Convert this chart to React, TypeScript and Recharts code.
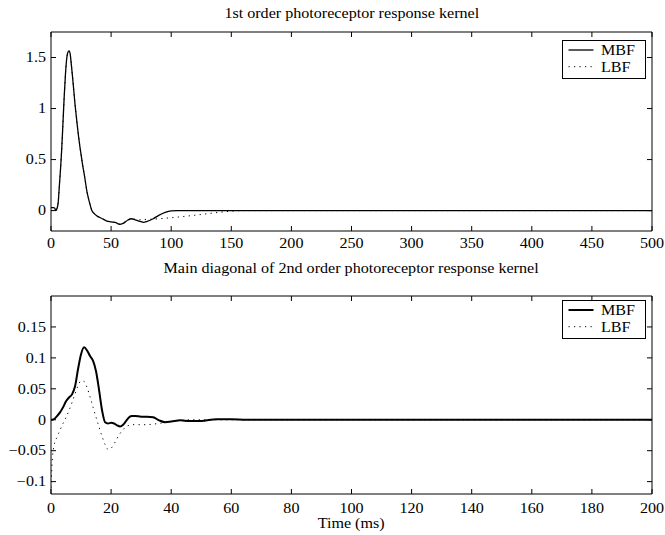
import { Legend, Line, LineChart, XAxis, YAxis } from "recharts";

// time axis (ms) and kernel values
const topTime = [
  0, 1, 2, 3, 4, 5, 6, 7, 8, 9, 10, 11, 12, 13, 14, 15, 16, 17, 18, 19, 20, 21, 22, 23, 24, 25, 26,
  28, 30, 32, 34, 36, 38, 42, 46, 50, 54, 57, 60, 64, 67, 70, 74, 77, 80, 85, 90, 95, 100, 105, 110,
  120, 130, 140, 150, 160, 200, 300, 400, 500,
];
const topMBF = [
  0.03, 0.03, 0.03, 0.025, 0.0, 0.02, 0.08, 0.25, 0.42, 0.62, 0.87, 1.12, 1.33, 1.48, 1.55, 1.565,
  1.53, 1.42, 1.3, 1.17, 1.04, 0.93, 0.82, 0.72, 0.63, 0.55, 0.47,
  0.33, 0.18, 0.08, 0.0, -0.03, -0.05, -0.075, -0.1, -0.11, -0.118, -0.135, -0.125, -0.092, -0.08,
  -0.09, -0.105, -0.115, -0.105, -0.08, -0.045, -0.018, -0.003, 0, 0,
  0, 0, 0, 0, 0, 0, 0, 0, 0,
];
const topLBF = [
  0.0, 0.0, 0.0, 0.0, 0.01, 0.03, 0.09, 0.25, 0.42, 0.62, 0.87, 1.12, 1.33, 1.48, 1.55, 1.565,
  1.53, 1.42, 1.3, 1.17, 1.04, 0.93, 0.82, 0.72, 0.63, 0.55, 0.47,
  0.33, 0.18, 0.08, 0.0, -0.03, -0.05, -0.075, -0.1, -0.11, -0.118, -0.13, -0.12, -0.09, -0.08,
  -0.085, -0.09, -0.088, -0.086, -0.084, -0.08, -0.075, -0.07, -0.064, -0.058,
  -0.045, -0.031, -0.017, -0.006, 0, 0, 0, 0, 0,
];

const botTime = [
  0, 0.5, 1, 2, 3, 4, 5, 6, 7, 8, 9, 10, 11, 12, 13, 14, 15, 16, 17, 18, 19, 20, 21, 22, 23, 24,
  25, 26, 27, 28, 30, 32, 34, 36, 38, 40, 43, 46, 50, 55, 60, 65, 70, 200,
];
const botMBF = [
  0, 0, 0.001, 0.006, 0.012, 0.02, 0.03, 0.036, 0.041, 0.054, 0.082, 0.106, 0.117, 0.112, 0.103,
  0.095, 0.078, 0.048, 0.015, -0.004, -0.006, -0.005, -0.006, -0.009, -0.011, -0.008,
  -0.002, 0.004, 0.006, 0.006, 0.005, 0.005, 0.004, -0.001, -0.004, -0.003, -0.001, -0.002, -0.002,
  0.001, 0.001, 0, 0, 0,
];
const botLBF = [
  -0.11, -0.06, -0.042, -0.028, -0.017, -0.006, 0.004, 0.015, 0.028, 0.042, 0.055, 0.063, 0.062,
  0.052, 0.037, 0.02, 0.004, -0.012, -0.027, -0.04, -0.048, -0.046, -0.039, -0.03, -0.022, -0.016,
  -0.011, -0.009, -0.008, -0.008, -0.008, -0.008, -0.007, -0.006, -0.004, -0.003, -0.001, 0, 0,
  0, 0, 0, 0, 0,
];

const topXTicks = [0, 50, 100, 150, 200, 250, 300, 350, 400, 450, 500];
const topYTicks = [0, 0.5, 1, 1.5];
const botXTicks = [0, 20, 40, 60, 80, 100, 120, 140, 160, 180, 200];
const botYTicks = [-0.1, -0.05, 0, 0.05, 0.1, 0.15];

const topRows = topTime.map((t, i) => ({ t, mbf: topMBF[i], lbf: topLBF[i] }));
const botRows = botTime.map((t, i) => ({ t, mbf: botMBF[i], lbf: botLBF[i] }));

const FONT = '"Liberation Serif", "Times New Roman", serif';
const SX = 1.15; // the original lettering is a bit wide
const DOTS = "1.2 4.3";
const TICK = 5;

const fmt = (v: number) => String(v).replace("-", "\u2212");

// ticks point inward (matlab style); x, y arrive on the frame since tickSize/tickMargin are 0
function BottomTick(props: any) {
  const { x, y, payload, labelOffset } = props;
  return (
    <g>
      <line x1={x} x2={x} y1={y} y2={y - TICK} stroke="#000" strokeWidth={1} />
      <text
        transform={`translate(${x},${y + labelOffset}) scale(${SX},1)`}
        textAnchor="middle"
        fontSize={14}
        fontFamily={FONT}
        fill="#000"
      >
        {fmt(payload.value)}
      </text>
    </g>
  );
}

function LeftTick(props: any) {
  const { x, y, payload } = props;
  return (
    <g>
      <line x1={x} x2={x + TICK} y1={y} y2={y} stroke="#000" strokeWidth={1} />
      <text
        transform={`translate(${x - 5},${y + 4.8}) scale(${SX},1)`}
        textAnchor="end"
        fontSize={14}
        fontFamily={FONT}
        fill="#000"
      >
        {fmt(payload.value)}
      </text>
    </g>
  );
}

function TopTick(props: any) {
  const { x, y } = props;
  return <line x1={x} x2={x} y1={y} y2={y + TICK} stroke="#000" strokeWidth={1} />;
}

function RightTick(props: any) {
  const { x, y } = props;
  return <line x1={x} x2={x - TICK} y1={y} y2={y} stroke="#000" strokeWidth={1} />;
}

function KernelLegend({ solid }: { solid: number }) {
  const rows = [
    { name: "MBF", y: 10, dash: undefined as string | undefined, w: solid },
    { name: "LBF", y: 26.7, dash: DOTS, w: 1 },
  ];
  return (
    <svg width={84} height={39} style={{ display: "block" }}>
      <rect x={0.5} y={0.5} width={83} height={38} fill="#fff" stroke="#000" strokeWidth={1} />
      {rows.map((r) => (
        <g key={r.name}>
          <line x1={6.5} x2={31.5} y1={r.y} y2={r.y} stroke="#000" strokeWidth={r.w} strokeDasharray={r.dash} />
          <text
            transform={`translate(39,${r.y + 4.8}) scale(${SX},1)`}
            fontSize={14}
            fontFamily={FONT}
            fill="#000"
          >
            {r.name}
          </text>
        </g>
      ))}
    </svg>
  );
}

function Title({ top, text }: { top: number; text: string }) {
  return (
    <div
      style={{
        position: "absolute",
        left: 51,
        width: 601,
        top,
        textAlign: "center",
        fontFamily: FONT,
        fontSize: 14,
        lineHeight: "normal",
        color: "#000",
        whiteSpace: "nowrap",
      }}
    >
      <span style={{ display: "inline-block", transform: `scaleX(${SX})` }}>{text}</span>
    </div>
  );
}

type PanelProps = {
  rows: { t: number; mbf: number; lbf: number }[];
  height: number;
  marginTop: number;
  xAxisHeight: number;
  labelOffset: number;
  xDomain: [number, number];
  yDomain: [number, number];
  xTicks: number[];
  yTicks: number[];
  solid: number;
  legendTop: number;
};

function Panel(p: PanelProps) {
  const axisStyle = { stroke: "#000", strokeWidth: 1 };
  return (
    <LineChart
      width={665}
      height={p.height}
      data={p.rows}
      margin={{ top: p.marginTop - 1, right: 12, bottom: 0, left: 0 }}
    >
      <XAxis
        type="number"
        dataKey="t"
        domain={p.xDomain}
        ticks={p.xTicks}
        interval={0}
        allowDataOverflow
        height={p.xAxisHeight}
        axisLine={axisStyle}
        tickLine={false}
        tickSize={0}
        tickMargin={0}
        tick={<BottomTick labelOffset={p.labelOffset} />}
      />
      <XAxis
        xAxisId="top"
        orientation="top"
        type="number"
        dataKey="t"
        domain={p.xDomain}
        ticks={p.xTicks}
        interval={0}
        allowDataOverflow
        height={1}
        axisLine={axisStyle}
        tickLine={false}
        tickSize={0}
        tickMargin={0}
        tick={<TopTick />}
      />
      <YAxis
        type="number"
        domain={p.yDomain}
        ticks={p.yTicks}
        interval={0}
        allowDataOverflow
        width={51}
        axisLine={axisStyle}
        tickLine={false}
        tickSize={0}
        tickMargin={0}
        tick={<LeftTick />}
      />
      <YAxis
        yAxisId="right"
        orientation="right"
        type="number"
        domain={p.yDomain}
        ticks={p.yTicks}
        interval={0}
        allowDataOverflow
        width={1}
        axisLine={axisStyle}
        tickLine={false}
        tickSize={0}
        tickMargin={0}
        tick={<RightTick />}
      />
      <Legend
        layout="vertical"
        align="center"
        verticalAlign="middle"
        wrapperStyle={{ left: 562, top: p.legendTop, width: 84, height: 39 }}
        content={<KernelLegend solid={p.solid} />}
      />
      <Line
        type="monotone"
        dataKey="mbf"
        name="MBF"
        stroke="#000"
        strokeWidth={p.solid}
        dot={false}
        activeDot={false}
        isAnimationActive={false}
      />
      <Line
        type="monotone"
        dataKey="lbf"
        name="LBF"
        stroke="#000"
        strokeWidth={1}
        strokeDasharray={DOTS}
        dot={false}
        activeDot={false}
        isAnimationActive={false}
      />
    </LineChart>
  );
}

export default function App() {
  return (
    <div
      style={{
        position: "absolute",
        left: 0,
        top: 0,
        width: 665,
        height: 535,
        background: "#fff",
        overflow: "hidden",
      }}
    >
      <Title top={6} text="1st order photoreceptor response kernel" />
      <div style={{ position: "absolute", left: 0, top: 0 }}>
        <Panel
          rows={topRows}
          height={260}
          marginTop={32}
          xAxisHeight={29}
          labelOffset={17}
          xDomain={[0, 500]}
          yDomain={[-0.2, 1.75]}
          xTicks={topXTicks}
          yTicks={topYTicks}
          solid={1.3}
          legendTop={40}
        />
      </div>
      <Title top={261} text="Main diagonal of 2nd order photoreceptor response kernel" />
      <div style={{ position: "absolute", left: 0, top: 260 }}>
        <Panel
          rows={botRows}
          height={275}
          marginTop={36}
          xAxisHeight={41}
          labelOffset={19}
          xDomain={[0, 200]}
          yDomain={[-0.12, 0.2]}
          xTicks={botXTicks}
          yTicks={botYTicks}
          solid={2}
          legendTop={40}
        />
      </div>
      <div
        style={{
          position: "absolute",
          left: 51,
          width: 601,
          top: 516,
          textAlign: "center",
          fontFamily: FONT,
          fontSize: 14,
          lineHeight: "normal",
          color: "#000",
        }}
      >
        <span style={{ display: "inline-block", transform: `scaleX(${SX})` }}>Time (ms)</span>
      </div>
    </div>
  );
}
